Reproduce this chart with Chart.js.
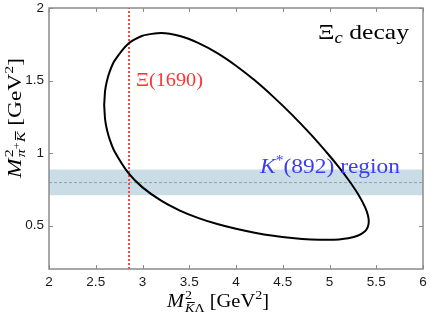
<!DOCTYPE html>
<html>
<head>
<meta charset="utf-8">
<script src="https://cdn.jsdelivr.net/npm/chart.js@4.4.1/dist/chart.umd.min.js"></script>
<style>
  html, body { margin: 0; padding: 0; background: #ffffff; }
  canvas { display: block; }
</style>
</head>
<body>
<canvas id="c" width="436" height="319"></canvas>
<script>
// ---- data ----
const xTicks = [2, 2.5, 3, 3.5, 4, 4.5, 5, 5.5, 6];
const yTicks = [0.5, 1, 1.5, 2];
const xRange = [2, 6];
const yRange = [0.2, 2];

// Dalitz boundary (closed contour), M^2(K̄Λ) and M^2(π+K̄) in GeV^2
const boundaryX = [2.590, 2.600, 2.620, 2.650, 2.700, 2.850, 3.000, 3.200, 3.400, 3.600, 3.800, 4.000,
                   4.200, 4.400, 4.600, 4.800, 5.000, 5.100, 5.200, 5.300, 5.380, 5.410, 5.420,
                   5.410, 5.380, 5.300, 5.200, 5.100, 5.000, 4.800, 4.600, 4.400, 4.200, 4.000,
                   3.800, 3.600, 3.400, 3.200, 3.000, 2.850, 2.700, 2.650, 2.620, 2.600, 2.590];
const boundaryY = [1.331, 1.429, 1.498, 1.563, 1.635, 1.755, 1.809, 1.828, 1.807, 1.758, 1.689, 1.602,
                   1.501, 1.387, 1.263, 1.128, 0.981, 0.902, 0.817, 0.722, 0.627, 0.573, 0.528,
                   0.491, 0.461, 0.429, 0.412, 0.404, 0.401, 0.404, 0.414, 0.429, 0.450, 0.477,
                   0.510, 0.551, 0.603, 0.671, 0.763, 0.861, 1.012, 1.092, 1.160, 1.232, 1.331];

const xiLineX = [2.856, 2.856];          // Ξ(1690) mass squared
const xiLineY = [0.2, 2];
const bandX = [2, 6];
const kstarLow = [0.709, 0.709];        // K*(892) band
const kstarMid = [0.796, 0.796];
const kstarHigh = [0.887, 0.887];

const labelXi = 'Ξ(1690)';
const labelDecay = ['Ξ', 'c', ' decay'];
const labelKstar = ['K', '*', '(892) region'];

const pts = (xs, ys) => xs.map((x, i) => ({ x: x, y: ys[i] }));

// ---- rich text helper ----
const SERIF = '"Liberation Serif", "Times New Roman", serif';
function drawRuns(ctx, runs, x, y, targetWidth, color) {
  ctx.save();
  ctx.fillStyle = color;
  ctx.textBaseline = 'alphabetic';
  ctx.textAlign = 'left';
  const measure = () => {
    let w = 0, stackW = null;
    for (const r of runs) {
      ctx.font = r.f;
      const rw = ctx.measureText(r.t).width + (r.gap || 0);
      if (r.stack) { stackW = rw; continue; }
      if (stackW !== null) { w += Math.max(stackW, rw); stackW = null; } else w += rw;
    }
    if (stackW !== null) w += stackW;
    return w;
  };
  const natural = measure();
  const sx = targetWidth ? targetWidth / natural : 1;
  ctx.translate(x, y);
  ctx.scale(sx, 1);
  let cx = 0, stackW = null;
  for (const r of runs) {
    ctx.font = r.f;
    ctx.fillText(r.t, cx + (r.dx || 0), r.dy || 0);
    if (r.bar) {
      ctx.fillRect(cx + r.bar[0], (r.dy || 0) + r.bar[1], r.bar[2], 1);
    }
    const rw = ctx.measureText(r.t).width + (r.gap || 0);
    if (r.stack) { stackW = rw; continue; }
    if (stackW !== null) { cx += Math.max(stackW, rw); stackW = null; } else cx += rw;
  }
  ctx.restore();
}

const decorPlugin = {
  id: 'decor',
  afterDatasetsDraw(chart) {
    const ctx = chart.ctx;
    const a = chart.chartArea;
    const xs = chart.scales.x, ys = chart.scales.y;

    // frame
    ctx.save();
    ctx.strokeStyle = '#8a8a8a';
    ctx.lineWidth = 1.5;
    ctx.strokeRect(a.left, a.top, a.right - a.left, a.bottom - a.top);
    // inward ticks on all four sides
    ctx.lineWidth = 1;
    const tl = 4;
    ctx.beginPath();
    for (const t of xs.ticks) {
      const px = Math.round(xs.getPixelForValue(t.value)) + 0.5;
      ctx.moveTo(px, a.bottom); ctx.lineTo(px, a.bottom - tl);
      ctx.moveTo(px, a.top); ctx.lineTo(px, a.top + tl);
    }
    for (const t of ys.ticks) {
      const py = Math.round(ys.getPixelForValue(t.value)) + 0.5;
      ctx.moveTo(a.left, py); ctx.lineTo(a.left + tl, py);
      ctx.moveTo(a.right, py); ctx.lineTo(a.right - tl, py);
    }
    ctx.stroke();

    // tick labels
    ctx.fillStyle = '#1a1a1a';
    ctx.font = '13.5px "Liberation Sans", Arial, sans-serif';
    ctx.textBaseline = 'middle';
    ctx.textAlign = 'center';
    for (const t of xs.ticks) {
      ctx.fillText(String(t.value), xs.getPixelForValue(t.value), a.bottom + 13.5);
    }
    ctx.textAlign = 'right';
    for (const t of ys.ticks) {
      ctx.fillText(String(t.value), a.left - 5, ys.getPixelForValue(t.value));
    }
    ctx.restore();

    // annotations
    const f = (s, it) => (it ? 'italic ' : '') + s + 'px ' + SERIF;

    // Ξ(1690)
    drawRuns(ctx, [{ t: labelXi, f: f(19) }],
      xs.getPixelForValue(2.93), ys.getPixelForValue(1.462), 67, '#ff3535');

    // Ξc decay
    drawRuns(ctx, [
      { t: labelDecay[0], f: f(22) },
      { t: labelDecay[1], f: f(16, true), dy: 4 },
      { t: labelDecay[2], f: f(22) }
    ], xs.getPixelForValue(5.85) - 91, ys.getPixelForValue(1.786), 91, '#000');

    // K*(892) region
    drawRuns(ctx, [
      { t: labelKstar[0], f: f(21, true) },
      { t: labelKstar[1], f: f(14), dy: -8 },
      { t: labelKstar[2], f: f(21) }
    ], xs.getPixelForValue(4.257), ys.getPixelForValue(0.862), 140, '#3b3bf5');

    // x axis title: M^2_{K̄Λ} [GeV^2]
    drawRuns(ctx, [
      { t: 'M', f: f(19, true), gap: 1 },
      { t: '2', f: f(13), dy: -8, stack: true },
      { t: 'K', f: f(13, true), dy: 5, bar: [2, -10, 7] },
      { t: 'Λ', f: f(13), dy: 5 },
      { t: ' [GeV', f: f(19) },
      { t: '2', f: f(13), dy: -8 },
      { t: ']', f: f(19) }
    ], 167, 307, 102, '#000');

    // y axis title (rotated): M^2_{π+K̄} [GeV^2]
    ctx.save();
    ctx.translate(21, 178);
    ctx.rotate(-Math.PI / 2);
    drawRuns(ctx, [
      { t: 'M', f: f(19, true), gap: 1 },
      { t: '2', f: f(13), dy: -8, stack: true },
      { t: 'π', f: f(13, true), dy: 4 },
      { t: '+', f: f(10), dy: -1 },
      { t: 'K', f: f(13, true), dy: 4, bar: [2, -10, 7] },
      { t: ' [GeV', f: f(19) },
      { t: '2', f: f(13), dy: -8 },
      { t: ']', f: f(19) }
    ], 0, 0, 120, '#000');
    ctx.restore();
  }
};

new Chart(document.getElementById('c'), {
  type: 'scatter',
  data: {
    datasets: [
      {
        label: 'boundary',
        data: pts(boundaryX, boundaryY),
        showLine: true, borderColor: '#000', borderWidth: 2,
        pointRadius: 0, tension: 0.2, fill: false, order: 0
      },
      {
        label: 'Xi(1690)',
        data: pts(xiLineX, xiLineY),
        showLine: true, borderColor: 'rgb(245,70,70)', borderWidth: 2,
        borderDash: [2, 2], pointRadius: 0, fill: false, order: 1
      },
      {
        label: 'K* mid',
        data: pts(bandX, kstarMid),
        showLine: true, borderColor: '#8fa3ad', borderWidth: 1,
        borderDash: [3, 2], pointRadius: 0, fill: false, order: 2
      },
      {
        label: 'K* high',
        data: pts(bandX, kstarHigh),
        showLine: true, borderWidth: 0, borderColor: 'rgba(0,0,0,0)',
        backgroundColor: '#cadde7', pointRadius: 0, fill: '+1', order: 3
      },
      {
        label: 'K* low',
        data: pts(bandX, kstarLow),
        showLine: true, borderWidth: 0, borderColor: 'rgba(0,0,0,0)',
        pointRadius: 0, fill: false, order: 4
      }
    ]
  },
  options: {
    responsive: false,
    animation: false,
    devicePixelRatio: 1,
    layout: { padding: { left: 0, top: 8, right: 13, bottom: 0 } },
    plugins: { legend: { display: false }, tooltip: { enabled: false } },
    scales: {
      x: {
        type: 'linear', min: xRange[0], max: xRange[1],
        afterBuildTicks: s => { s.ticks = xTicks.map(v => ({ value: v })); },
        afterFit: s => { s.height = 50; },
        grid: { display: false },
        border: { display: false },
        ticks: { display: false }
      },
      y: {
        type: 'linear', min: yRange[0], max: yRange[1],
        afterBuildTicks: s => { s.ticks = yTicks.map(v => ({ value: v })); },
        afterFit: s => { s.width = 49; },
        grid: { display: false },
        border: { display: false },
        ticks: { display: false }
      }
    }
  },
  plugins: [decorPlugin]
});
</script>
</body>
</html>
